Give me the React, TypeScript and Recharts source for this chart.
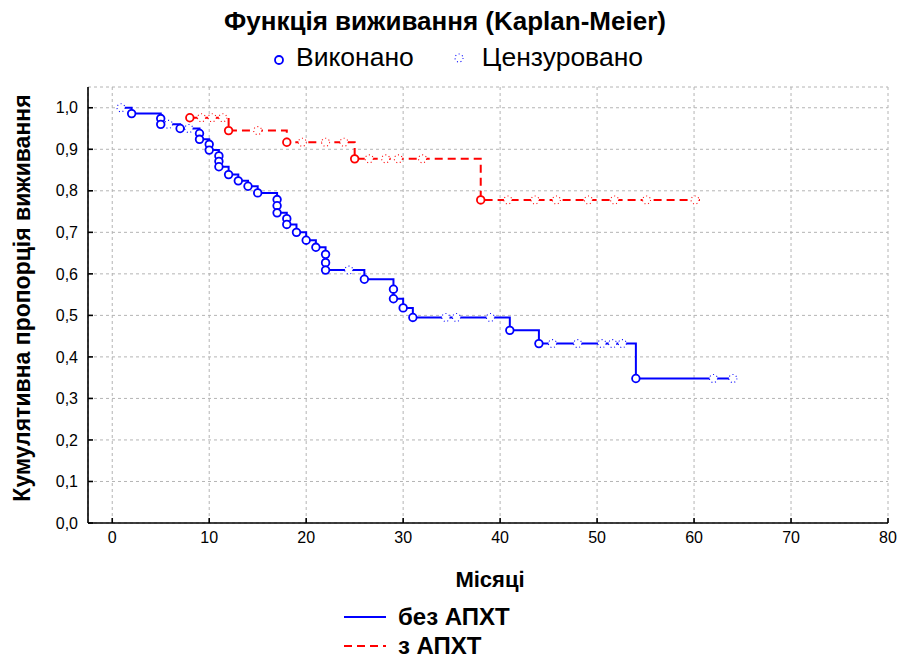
import React from 'react'
import { ComposedChart, Line, Scatter, XAxis, YAxis, CartesianGrid } from 'recharts'

const BLUE = '#0000ff'
const RED = '#ff0000'
const FONT = '"Liberation Sans", Arial, sans-serif'

// без АПХТ: events (months, survival)
const blueEvents = [
  { t: 2, s: 0.986 }, { t: 5, s: 0.974 }, { t: 5, s: 0.96 }, { t: 7, s: 0.95 },
  { t: 9, s: 0.938 }, { t: 9, s: 0.924 }, { t: 10, s: 0.912 }, { t: 10, s: 0.898 },
  { t: 11, s: 0.884 }, { t: 11, s: 0.871 }, { t: 11, s: 0.858 }, { t: 12, s: 0.839 },
  { t: 13, s: 0.824 }, { t: 14, s: 0.811 }, { t: 15, s: 0.795 }, { t: 17, s: 0.779 },
  { t: 17, s: 0.764 }, { t: 17, s: 0.747 }, { t: 18, s: 0.733 }, { t: 18, s: 0.719 },
  { t: 19, s: 0.7 }, { t: 20, s: 0.681 }, { t: 21, s: 0.664 }, { t: 22, s: 0.647 },
  { t: 22, s: 0.627 }, { t: 22, s: 0.609 }, { t: 26, s: 0.587 }, { t: 29, s: 0.563 },
  { t: 29, s: 0.54 }, { t: 30, s: 0.518 }, { t: 31, s: 0.495 }, { t: 41, s: 0.464 },
  { t: 44, s: 0.432 }, { t: 54, s: 0.348 },
]
const blueCensored = [
  { t: 0.9, s: 1.0 }, { t: 5.8, s: 0.96 }, { t: 7.9, s: 0.95 }, { t: 24.4, s: 0.609 },
  { t: 34.4, s: 0.495 }, { t: 35.5, s: 0.495 }, { t: 39.0, s: 0.495 },
  { t: 45.4, s: 0.432 }, { t: 48.0, s: 0.432 }, { t: 50.5, s: 0.432 }, { t: 51.6, s: 0.432 },
  { t: 52.6, s: 0.432 }, { t: 62.0, s: 0.348 }, { t: 64.0, s: 0.348 },
]
const blueStart = { t: 0.9, s: 1.0 }
const blueEndT = 64.3

// з АПХТ
const redEvents = [
  { t: 8, s: 0.976 }, { t: 12, s: 0.945 }, { t: 18, s: 0.917 }, { t: 25, s: 0.877 }, { t: 38, s: 0.778 },
]
const redCensored = [
  { t: 9.2, s: 0.976 }, { t: 10.3, s: 0.976 }, { t: 11.4, s: 0.976 }, { t: 15.0, s: 0.945 },
  { t: 19.6, s: 0.917 }, { t: 22.0, s: 0.917 }, { t: 23.9, s: 0.917 },
  { t: 26.5, s: 0.877 }, { t: 28.2, s: 0.877 }, { t: 29.5, s: 0.877 }, { t: 32.0, s: 0.877 },
  { t: 40.8, s: 0.778 }, { t: 43.6, s: 0.778 }, { t: 45.8, s: 0.778 }, { t: 49.1, s: 0.778 },
  { t: 51.8, s: 0.778 }, { t: 55.1, s: 0.778 }, { t: 60.1, s: 0.778 },
]
const redEndT = 60.6

const xTicks = [0, 10, 20, 30, 40, 50, 60, 70, 80]
const yTicks = [0, 0.1, 0.2, 0.3, 0.4, 0.5, 0.6, 0.7, 0.8, 0.9, 1.0]

function toSteps(start: any, events: any[], endT: number) {
  const out: any[] = start ? [{ ...start }] : []
  events.forEach((e) => {
    const last = out[out.length - 1]
    if (last && last.t === e.t) last.s = e.s
    else out.push({ t: e.t, s: e.s })
  })
  out.push({ t: endT, s: out[out.length - 1].s })
  return out
}

const blueSteps = toSteps(blueStart, blueEvents, blueEndT)
const redSteps = toSteps(null, redEvents, redEndT)

const eventDot = (color: string) => (p: any) =>
  p.cx == null ? <g /> : <circle cx={p.cx} cy={p.cy} r={3.8} fill="#fff" stroke={color} strokeWidth={1.8} />

const censorDot = (color: string) => (p: any) =>
  p.cx == null ? <g /> : (
    <circle cx={p.cx} cy={p.cy} r={4} fill="#fff" stroke={color} strokeWidth={1.1} strokeDasharray="1 2.6" />
  )

const fmtY = (v: number) => v.toFixed(1).replace('.', ',')

const axisStroke = { stroke: '#000', strokeWidth: 1.6 }
const tickStyle = { fill: '#000', fontSize: 16, fontFamily: FONT }

export default function App() {
  return (
    <div style={{ position: 'absolute', left: 0, top: 0, width: 901, height: 661, background: '#fff', fontFamily: FONT, overflow: 'hidden' }}>
      <div style={{ position: 'absolute', left: 0, width: 890, top: 6, textAlign: 'center', fontSize: 26, fontWeight: 'bold', whiteSpace: 'nowrap' }}>
        Функція виживання (Kaplan-Meier)
      </div>
      <div style={{ position: 'absolute', left: 271, top: 42, fontSize: 26.5, display: 'flex', alignItems: 'center', whiteSpace: 'nowrap' }}>
        <svg width={16} height={16} style={{ marginRight: 9, marginTop: 4 }}>
          <circle cx={8} cy={8} r={4} fill="#fff" stroke={BLUE} strokeWidth={1.8} />
        </svg>
        <span>Виконано</span>
        <svg width={16} height={16} style={{ marginLeft: 37, marginRight: 15 }}>
          <circle cx={8} cy={8} r={4} fill="#fff" stroke={BLUE} strokeWidth={1.1} strokeDasharray="1 2.6" />
        </svg>
        <span>Цензуровано</span>
      </div>
      <div style={{ position: 'absolute', left: 22, top: 298, width: 0, height: 0 }}>
        <div style={{ position: 'absolute', transform: 'translate(-50%, -50%) rotate(-90deg)', fontSize: 23, fontWeight: 'bold', whiteSpace: 'nowrap' }}>
          Кумулятивна пропорція виживання
        </div>
      </div>

      <div style={{ position: 'absolute', left: 0, top: 0 }}>
        <ComposedChart width={901} height={661} margin={{ top: 87, right: 13, bottom: 108, left: 28 }}>
          <CartesianGrid stroke="#b4b4b4" strokeDasharray="3 3" />
          <XAxis
            xAxisId={0} type="number" dataKey="t" domain={[-2.5, 80]} ticks={xTicks} interval={0}
            allowDataOverflow height={30} tickSize={-5} tickMargin={14}
            axisLine={axisStroke} tickLine={axisStroke} tick={tickStyle}
          />
          <XAxis
            xAxisId="top" orientation="top" type="number" dataKey="t" domain={[-2.5, 80]} ticks={xTicks}
            interval={0} allowDataOverflow height={0} tickSize={-5} tick={false}
            axisLine={axisStroke} tickLine={axisStroke}
          />
          <YAxis
            yAxisId={0} type="number" domain={[0, 1.05]} ticks={yTicks} interval={0} allowDataOverflow
            width={60} tickSize={-5} tickMargin={15} tickFormatter={fmtY}
            axisLine={axisStroke} tickLine={axisStroke} tick={tickStyle}
          />
          <YAxis
            yAxisId="right" orientation="right" type="number" domain={[0, 1.05]} ticks={yTicks} interval={0}
            allowDataOverflow width={0} tickSize={-5} tick={false}
            axisLine={axisStroke} tickLine={axisStroke}
          />
          <Line data={blueSteps} dataKey="s" type="stepAfter" stroke={BLUE} strokeWidth={2} dot={false} isAnimationActive={false} />
          <Line data={redSteps} dataKey="s" type="stepAfter" stroke={RED} strokeWidth={2} strokeDasharray="8 5" dot={false} isAnimationActive={false} />
          <Scatter data={blueCensored} dataKey="s" shape={censorDot(BLUE)} isAnimationActive={false} />
          <Scatter data={redCensored} dataKey="s" shape={censorDot(RED)} isAnimationActive={false} />
          <Scatter data={blueEvents} dataKey="s" shape={eventDot(BLUE)} isAnimationActive={false} />
          <Scatter data={redEvents} dataKey="s" shape={eventDot(RED)} isAnimationActive={false} />
        </ComposedChart>
      </div>

      <div style={{ position: 'absolute', left: 0, width: 980, top: 567, textAlign: 'center', fontSize: 22, fontWeight: 'bold' }}>
        Місяці
      </div>
      <div style={{ position: 'absolute', left: 344, top: 606, fontSize: 24, fontWeight: 'bold', lineHeight: '22px', whiteSpace: 'nowrap' }}>
        <div style={{ display: 'flex', alignItems: 'center' }}>
          <svg width={42} height={10} style={{ marginRight: 12 }}>
            <line x1={0} y1={5} x2={42} y2={5} stroke={BLUE} strokeWidth={2} />
          </svg>
          <span>без АПХТ</span>
        </div>
        <div style={{ display: 'flex', alignItems: 'center', marginTop: 7 }}>
          <svg width={42} height={10} style={{ marginRight: 12 }}>
            <line x1={0} y1={5} x2={42} y2={5} stroke={RED} strokeWidth={2} strokeDasharray="8 5" />
          </svg>
          <span>з АПХТ</span>
        </div>
      </div>
    </div>
  )
}
